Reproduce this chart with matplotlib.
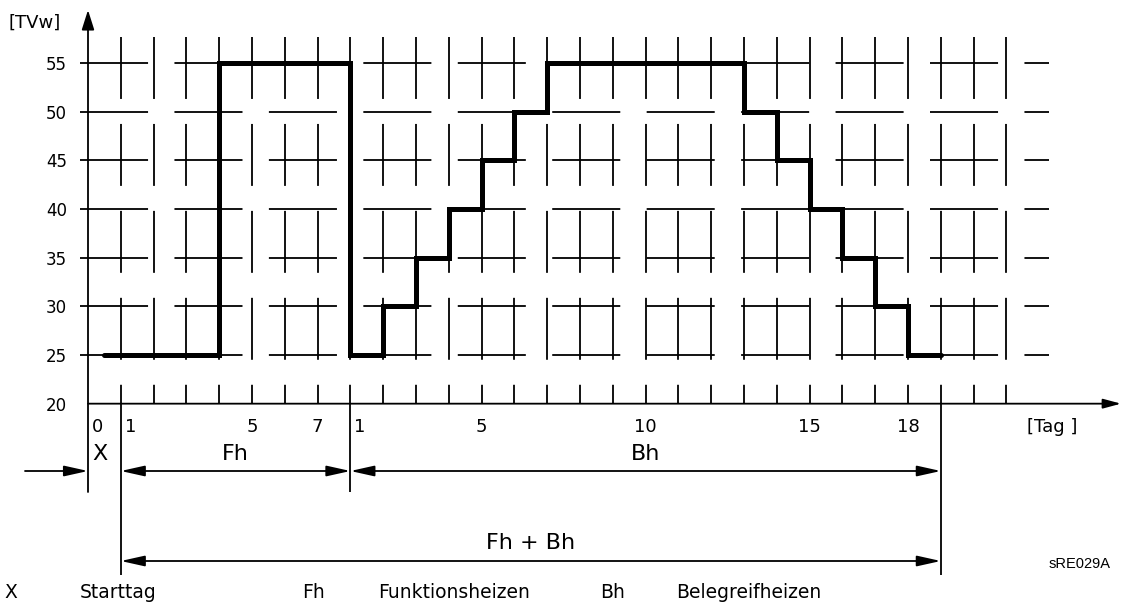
import matplotlib.pyplot as plt

plt.rcParams['font.family'] = ['DejaVu Sans']
plt.rcParams['lines.scale_dashes'] = False

# heating programme on one running day scale (Bh day n sits at n + 7)
day_edges = [0.5, 4, 8, 9, 10, 11, 12, 13, 14, 20, 21, 22, 23, 24, 25, 26]
flow_temp = [25, 55, 25, 30, 35, 40, 45, 50, 55, 50, 45, 40, 35, 30, 25]

temp_ticks = [20, 25, 30, 35, 40, 45, 50, 55]
grid_levels = [25, 30, 35, 40, 45, 50, 55]
grid_days = list(range(1, 29))

day_ticks = [0, 1, 5, 7, 8, 12, 17, 22, 25]
day_labels = ['0', '1', '5', '7', '1', '5', '10', '15', '18']
day_align = ['left', 'left', 'center', 'center', 'left',
             'center', 'center', 'center', 'center']

# phase borders: start day X, Fh, Bh
x_start, fh_start, bh_start, bh_end = 0, 1, 8, 26

legend_keys = ['X', 'Fh', 'Bh']
legend_names = ['Starttag', 'Funktionsheizen', 'Belegreifheizen']

W, H = 1122, 605
fig = plt.figure(figsize=(W / 100, H / 100), dpi=100)
ax = fig.add_axes([0, 0, 1, 1])
ax.set_axis_off()

# day 0 at x = 88 px with 32.8 px per day; 25 at y = 355 px, 292 px per 30 degrees
px_day, px_deg = 32.8, 292 / 30
ax.set_xlim(-88 / px_day, (W - 88) / px_day)
ax.set_ylim(25 - (H - 355) / px_deg, 25 + 355 / px_deg)


def col(px):
    x0, x1 = ax.get_xlim()
    return x0 + px / W * (x1 - x0)


def row(py):
    y0, y1 = ax.get_ylim()
    return y1 - py / H * (y1 - y0)


lw = 1.3
base = temp_ticks[0]

# broken background grid (dashes in points, 100 dpi)
ax.hlines(grid_levels, col(80), col(1049), color='black', lw=lw,
          linestyles=[(0, (49, 19))])
ax.vlines(grid_days, row(37), base, color='black', lw=lw,
          linestyles=[(0, (44.6, 18))])


def arrow(x0, y0, x1, y1, style, hl, hw):
    ax.annotate('', xy=(x1, y1), xytext=(x0, y0),
                arrowprops=dict(arrowstyle=f'{style},head_length={hl},head_width={hw}',
                                color='black', lw=lw, shrinkA=0, shrinkB=0,
                                mutation_scale=10))


# axes with arrow heads
arrow(x_start, base, col(1121), base, '-|>', 1.08, 0.29)
arrow(x_start, row(492), x_start, row(10), '-|>', 1.2, 0.38)

# extension lines below the day axis
ax.vlines([bh_start], base, row(492), color='black', lw=lw)
ax.vlines([fh_start, bh_end], base, row(575), color='black', lw=lw)

# heating curve
ax.stairs(flow_temp, day_edges, baseline=None, color='black', lw=3.6,
          joinstyle='miter', capstyle='round', zorder=5)

# temperature labels
for t in temp_ticks:
    ax.text(col(67), t - 7 / px_deg, str(t), fontsize=12,
            ha='right', va='baseline')
ax.text(col(9), row(28), '[TVw]', fontsize=13, ha='left', va='baseline')

# day labels
for d, lab, al in zip(day_ticks, day_labels, day_align):
    x = d + 4 / px_day if al == 'left' else d
    ax.text(x, row(432), lab, fontsize=13, ha=al, va='baseline')
ax.text(col(1027), row(432), '[Tag ]', fontsize=13, ha='left', va='baseline')

# phase dimension lines
r1, r2 = row(471), row(561)
arrow(col(25), r1, x_start, r1, '-|>', 1.44, 0.32)
arrow(fh_start, r1, bh_start, r1, '<|-|>', 1.44, 0.32)
arrow(bh_start, r1, bh_end, r1, '<|-|>', 1.44, 0.32)
arrow(fh_start, r2, bh_end, r2, '<|-|>', 1.44, 0.32)

ax.text(x_start + 4 / px_day, row(460), 'X', fontsize=16, ha='left', va='baseline')
ax.text((fh_start + bh_start) / 2, row(460), 'Fh', fontsize=16,
        ha='center', va='baseline')
ax.text((bh_start + bh_end) / 2, row(460), 'Bh', fontsize=16,
        ha='center', va='baseline')
ax.text((fh_start + bh_end) / 2, row(549), 'Fh + Bh', fontsize=16,
        ha='center', va='baseline')

ax.text(col(1111), row(568), 'sRE029A', fontsize=10.5, ha='right',
        va='baseline', family='Liberation Sans')

# key line
for i, (k, name) in enumerate(zip(legend_keys, legend_names)):
    x0 = 4 + 298 * i
    ax.text(col(x0), row(598), k, fontsize=13.5, ha='left', va='baseline')
    ax.text(col(x0 + 76), row(598), name, fontsize=13.5, ha='left', va='baseline')

fig.savefig('out.png', dpi=100)
